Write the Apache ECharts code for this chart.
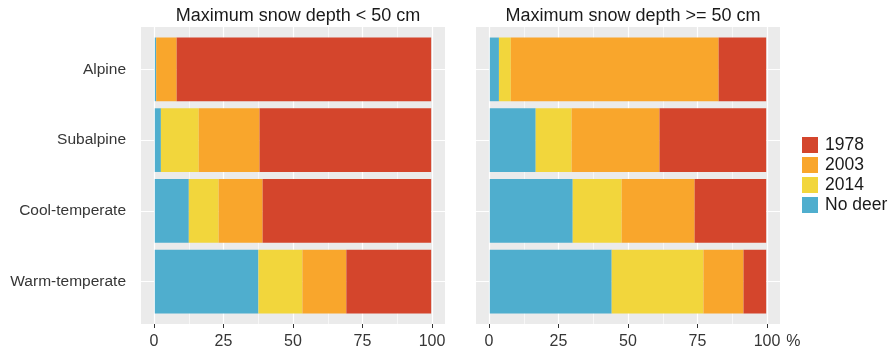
<!DOCTYPE html>
<html>
<head>
<meta charset="utf-8">
<script src="https://cdn.jsdelivr.net/npm/echarts@6/dist/echarts.min.js"></script>
<style>
  html, body { margin: 0; padding: 0; background: #fff; }
  #chart { width: 893px; height: 351px; }
</style>
</head>
<body>
<div id="chart"></div>
<script>
// vegetation zones, top to bottom
const categories = ['Alpine', 'Subalpine', 'Cool-temperate', 'Warm-temperate']
const panelTitles = ['Maximum snow depth < 50 cm', 'Maximum snow depth >= 50 cm']
const legendOrder = ['1978', '2003', '2014', 'No deer']

// percent of sites, snow depth < 50 cm
const lowNoDeer = [0.5, 2.2, 12.3, 37.5]
const low2014 = [0, 13.7, 10.8, 15.9]
const low2003 = [7.4, 22.0, 15.9, 15.9]
const low1978 = [92.1, 62.1, 61.0, 30.7]

// percent of sites, snow depth >= 50 cm
const highNoDeer = [3.3, 16.6, 30.0, 44.1]
const high2014 = [4.3, 13.0, 17.7, 33.2]
const high2003 = [75.2, 31.8, 26.4, 14.5]
const high1978 = [17.2, 38.6, 25.9, 8.2]

const colors = {
    'No deer': '#4FAECE',
    '2014': '#F2D63C',
    '2003': '#F9A62C',
    '1978': '#D4452C',
}

const FONT = 'Liberation Sans, Arial, Helvetica, sans-serif'
const TEXT = '#363636'
const panels = [
    { left: 141, sets: { 'No deer': lowNoDeer, '2014': low2014, '2003': low2003, '1978': low1978 } },
    { left: 476, sets: { 'No deer': highNoDeer, '2014': high2014, '2003': high2003, '1978': high1978 } },
]
const PANEL_W = 304, PANEL_TOP = 27, PANEL_H = 297, EXP = 13

const grid = [], xAxis = [], yAxis = [], series = [], title = []

panels.forEach((p, i) => {
    const g0 = grid.length
    // panel background
    grid.push({ left: p.left, top: PANEL_TOP, width: PANEL_W, height: PANEL_H, show: true, backgroundColor: '#EBEBEB', borderWidth: 0, z: -1 })
    xAxis.push({ gridIndex: g0, type: 'value', min: 0, max: 1, show: false })
    yAxis.push({ gridIndex: g0, type: 'value', min: 0, max: 1, show: false })

    // vertical grid lines + x labels
    grid.push({ left: p.left + EXP, top: PANEL_TOP, width: PANEL_W - 2 * EXP, height: PANEL_H, show: false })
    xAxis.push({
        gridIndex: g0 + 1, type: 'value', min: 0, max: 100, interval: 25,
        axisLine: { show: false },
        axisTick: { show: true, length: 4, lineStyle: { color: '#333', width: 1 } },
        axisLabel: { fontSize: 16, color: TEXT, fontFamily: FONT, margin: 10 },
        splitLine: { show: true, lineStyle: { color: '#fff', width: 1.2 } },
        minorTick: { show: false, splitNumber: 2 },
        minorSplitLine: { show: true, lineStyle: { color: '#fff', width: 0.6 } },
        name: i === 1 ? '%' : '',
        nameLocation: 'end',
        nameGap: 13,
        nameTextStyle: { fontSize: 16, color: TEXT, fontFamily: FONT, verticalAlign: 'top', padding: [10, 0, 0, 0] },
    })
    yAxis.push({ gridIndex: g0 + 1, type: 'value', min: 0, max: 1, show: false })

    // bars
    grid.push({ left: p.left, top: PANEL_TOP + 7, width: PANEL_W, height: PANEL_H - 14, show: false })
    xAxis.push({ gridIndex: g0 + 2, type: 'value', min: -5, max: 105, show: false })
    yAxis.push({
        gridIndex: g0 + 2, type: 'category', data: categories, inverse: true,
        axisLine: { show: false },
        axisTick: { show: true, alignWithLabel: true, length: 4, lineStyle: { color: '#333' } },
        axisLabel: { show: i === 0, fontSize: 15.5, color: TEXT, fontFamily: FONT, margin: 15 },
        splitLine: { show: false },
    })

    ;['No deer', '2014', '2003', '1978'].forEach((name, k) => {
        const s = {
            name, type: 'bar', stack: 'p' + i,
            xAxisIndex: g0 + 2, yAxisIndex: g0 + 2,
            data: p.sets[name], barWidth: '90%',
            itemStyle: { color: colors[name] },
            emphasis: { disabled: true },
        }
        if (k === 0) {
            s.markLine = {
                silent: true, symbol: 'none', z: 1, animation: false,
                label: { show: false },
                lineStyle: { color: '#fff', width: 1.2, type: 'solid' },
                data: categories.map(c => ({ yAxis: c })),
            }
        }
        series.push(s)
    })

    title.push({
        text: panelTitles[i], left: p.left + PANEL_W / 2, top: 2, textAlign: 'center',
        textStyle: { fontSize: 18, fontWeight: 'normal', color: '#1A1A1A', fontFamily: FONT },
    })
})

const chart = echarts.init(document.getElementById('chart'), null, { renderer: 'canvas' })
chart.setOption({
    animation: false,
    backgroundColor: '#fff',
    title,
    grid, xAxis, yAxis, series,
    legend: {
        data: legendOrder, orient: 'vertical', left: 802, top: 136, padding: 0,
        icon: 'rect', itemWidth: 16, itemHeight: 16, itemGap: 2,
        textStyle: { fontSize: 17.5, color: '#1A1A1A', fontFamily: FONT, padding: [0, 0, 0, 2] },
        selectedMode: false,
    },
    series,
})
</script>
</body>
</html>
